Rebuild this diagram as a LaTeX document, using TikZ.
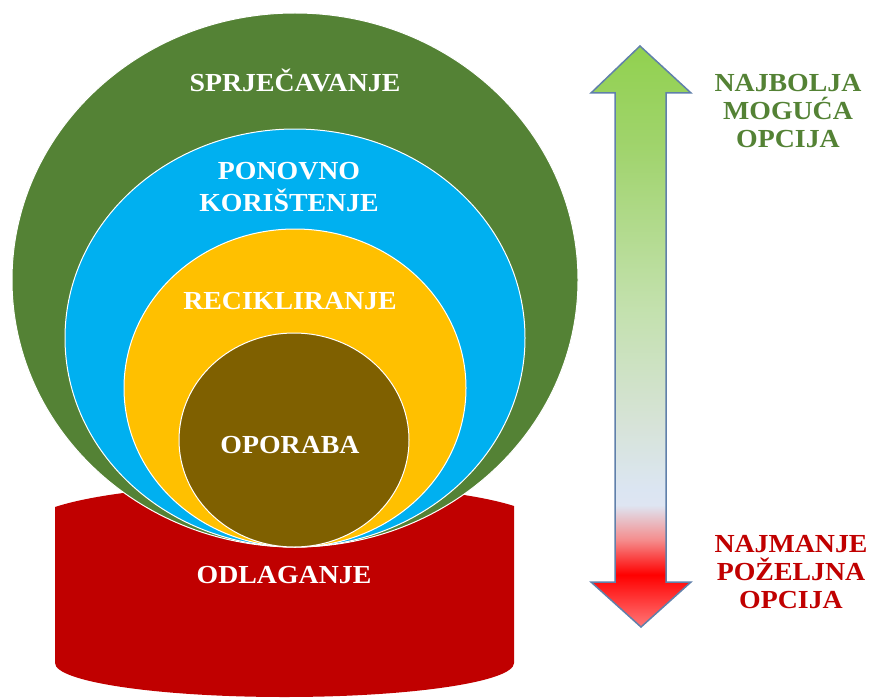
\documentclass[tikz,border=0pt]{standalone}
\usepackage{fontspec}
\setmainfont[FakeStretch=1.07]{Liberation Serif}
\usepackage{tikz}
\definecolor{prevgreen}{RGB}{84,130,53}
\definecolor{reuseblue}{RGB}{0,176,240}
\definecolor{recyellow}{RGB}{255,192,0}
\definecolor{recbrown}{RGB}{127,96,0}
\definecolor{dispred}{RGB}{192,0,0}
\definecolor{arrowedge}{RGB}{96,128,170}
\pgfdeclareverticalshading{hierarchy}{100bp}{
  rgb(0bp)=(1,0.47,0.47); rgb(25bp)=(1,0.47,0.47); rgb(29.5bp)=(1,0,0);
  rgb(32.5bp)=(0.96,0.55,0.55); rgb(35.5bp)=(0.87,0.9,0.95); rgb(36.8bp)=(0.86,0.9,0.95);
  rgb(42.8bp)=(0.84,0.89,0.84); rgb(53bp)=(0.76,0.88,0.67); rgb(66bp)=(0.63,0.83,0.43);
  rgb(75bp)=(0.57,0.82,0.31); rgb(100bp)=(0.57,0.82,0.31)}
\tikzset{level/.style = {draw=white, line width=1pt},
         tag/.style = {font=\fontsize{26}{32}\selectfont\bfseries, text=white,
                       align=center, inner sep=0pt},
         side/.style = {font=\fontsize{26}{28}\selectfont\bfseries,
                        align=center, inner sep=0pt}}

\begin{document}
\begin{tikzpicture}[x=1pt, y=-1pt]
	\useasboundingbox (0,0) rectangle (869,698);
	\fill [dispred] (55,507) -- (55,663)
		arc [start angle=180, end angle=0, x radius=229.5, y radius=34]
		-- (514,506) .. controls (420,476) and (150,476) .. cycle;
	\draw [level, fill=prevgreen] (295,280) ellipse [x radius=283, y radius=267];
	\draw [level, fill=reuseblue] (295,338) ellipse [x radius=230, y radius=209];
	\draw [level, fill=recyellow] (295,388) ellipse [x radius=171, y radius=159];
	\draw [level, fill=recbrown] (294,440) ellipse [x radius=115, y radius=107];
	\node [tag] (prevent) at (295,80) {SPRJEČAVANJE};
	\node [tag] (reuse) at (289,187) {PONOVNO\\KORIŠTENJE};
	\node [tag] (recycle) at (290,301) {RECIKLIRANJE};
	\node [tag] (recover) at (290,445) {OPORABA};
	\node [tag] (dispose) at (284,575) {ODLAGANJE};
	\shadedraw [draw=arrowedge, line width=1.5pt, shading=hierarchy]
		(640,46) -- (691,93) -- (666,93) -- (666,582) -- (691,582) -- (641,627)
		-- (591,582) -- (615,582) -- (615,93) -- (591,93) -- cycle;
	\node [side, text=prevgreen] (best) at (788,111) {NAJBOLJA\\MOGUĆA\\OPCIJA};
	\node [side, text=dispred] (worst) at (791,572) {NAJMANJE\\POŽELJNA\\OPCIJA};
\end{tikzpicture}
\end{document}
